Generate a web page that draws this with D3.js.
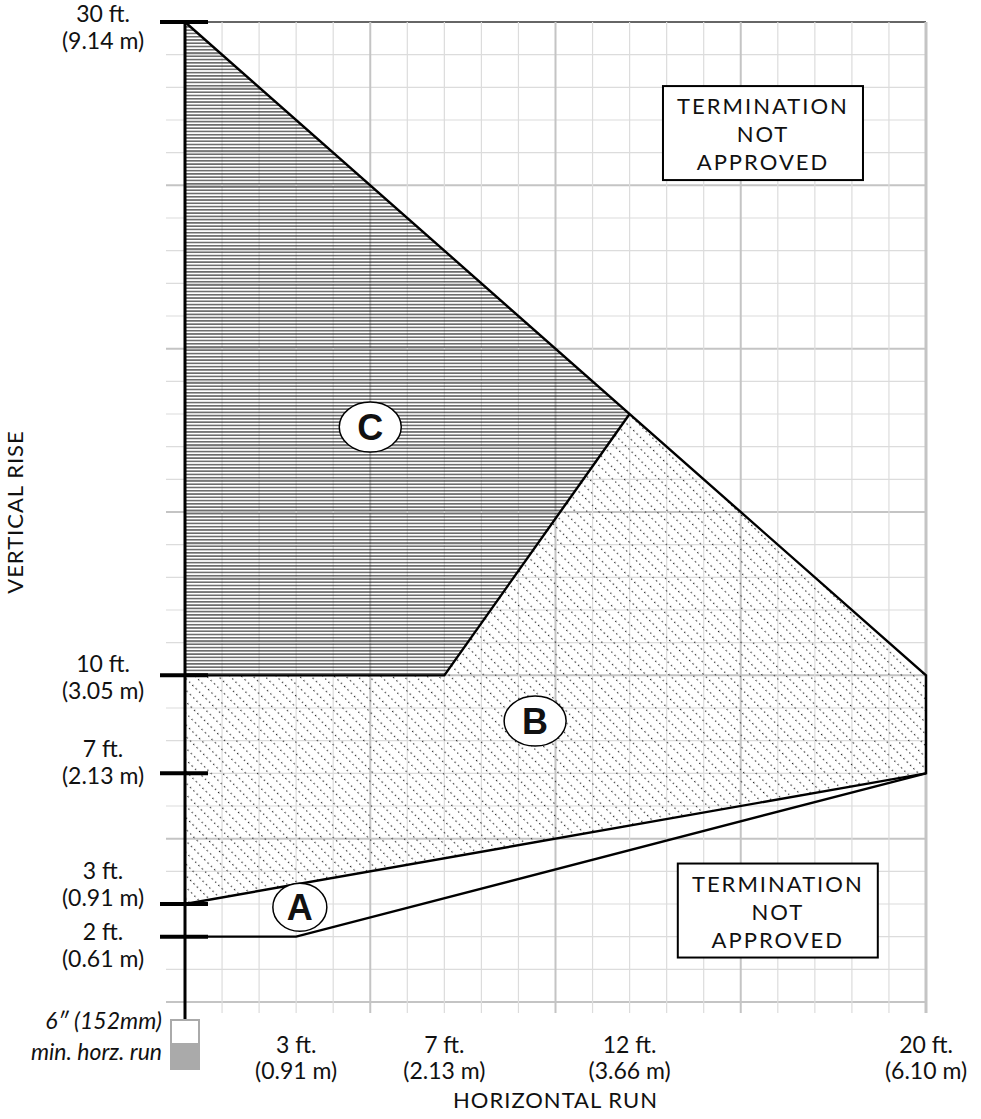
<!DOCTYPE html>
<html lang="en">
<head>
<meta charset="utf-8">
<title>Vent termination chart</title>
<script src="https://d3js.org/d3.v7.min.js"></script>
<style>
  body { margin: 0; background: #fff; }
  text { font-family: Lato, "Open Sans", sans-serif; fill: #111; }
</style>
</head>
<body>
<div id="chart"></div>
<script>

// tick values (ft) and their metric labels
var xTicks = [3, 7, 12, 20];
var xTickMetric = ["(0.91 m)", "(2.13 m)", "(3.66 m)", "(6.10 m)"];
var yTicks = [30, 10, 7, 3, 2];
var yTickMetric = ["(9.14 m)", "(3.05 m)", "(2.13 m)", "(0.91 m)", "(0.61 m)"];

// zone boundaries, [run ft, rise ft]
var zoneC = [[0, 30], [12, 18], [7, 10], [0, 10]];
var zoneB = [[0, 10], [7, 10], [12, 18], [20, 10], [20, 7], [0, 3]];
var outerEdge = [[0, 30], [20, 10], [20, 7], [0, 3]];
var edgeC = [[0, 10], [7, 10], [12, 18]];
var lineA = [[0, 2], [3, 2], [20, 7]];

// zone markers
var zoneNames = ["A", "B", "C"];
var zoneX = [3.1, 9.45, 5.0];
var zoneY = [2.9, 8.6, 17.6];

// "not approved" notes
var noteLines = ["TERMINATION", "NOT", "APPROVED"];
var noteX = [15.6, 16.0];
var noteY = [26.6, 2.8];

var width = 981, height = 1119;

var svg = d3.select("#chart").append("svg")
    .attr("width", width)
    .attr("height", height);

var x = d3.scaleLinear().domain([0, 20]).range([185, 926]);
var y = d3.scaleLinear().domain([0, 30]).range([1002, 22]);

var defs = svg.append("defs");

// C: fine horizontal lines, 10 per foot
var step = (y(0) - y(1)) / 10;
var pc = defs.append("pattern")
    .attr("id", "hatchC")
    .attr("patternUnits", "userSpaceOnUse")
    .attr("x", 0).attr("y", y(30))
    .attr("width", 10).attr("height", step);
pc.append("line")
    .attr("x1", 0).attr("x2", 10)
    .attr("y1", step / 2).attr("y2", step / 2)
    .attr("stroke", "#111").attr("stroke-width", 1);

// B: dotted diagonal lines
var pb = defs.append("pattern")
    .attr("id", "dotsB")
    .attr("patternUnits", "userSpaceOnUse")
    .attr("width", 9.4).attr("height", 8.2)
    .attr("patternTransform", "rotate(45)");
pb.append("line")
    .attr("x1", 0).attr("x2", 9.4)
    .attr("y1", 4).attr("y2", 4)
    .attr("stroke", "#222").attr("stroke-width", 1.1)
    .attr("stroke-dasharray", "1.4 3.3");

// grid
var grid = svg.append("g");
grid.selectAll(".hgrid")
    .data(d3.range(0, 31))
    .enter().append("line")
    .attr("x1", x(0) - 19).attr("x2", x(20))
    .attr("y1", function (d) { return y(d); })
    .attr("y2", function (d) { return y(d); })
    .attr("stroke", function (d) { return d === 30 ? "#666" : (d % 5 === 0 ? "#c4c4c4" : "#dcdcdc"); })
    .attr("stroke-width", function (d) { return d % 5 === 0 ? 2 : 1.2; });

grid.selectAll(".vgrid")
    .data(d3.range(1, 21))
    .enter().append("line")
    .attr("x1", function (d) { return x(d); })
    .attr("x2", function (d) { return x(d); })
    .attr("y1", y(30)).attr("y2", y(0) + 11)
    .attr("stroke", function (d) { return d % 5 === 0 ? "#c4c4c4" : "#dcdcdc"; })
    .attr("stroke-width", function (d) { return d === 20 ? 3 : (d % 5 === 0 ? 2 : 1.2); });

var line = d3.line()
    .x(function (d) { return x(d[0]); })
    .y(function (d) { return y(d[1]); });

// zones
svg.append("path").attr("d", line(zoneB) + "Z")
    .attr("fill", "url(#dotsB)");
svg.append("path").attr("d", line(zoneC) + "Z")
    .attr("fill", "url(#hatchC)");

[outerEdge, edgeC, lineA].forEach(function (pts) {
    svg.append("path").attr("d", line(pts))
        .attr("fill", "none")
        .attr("stroke", "#000")
        .attr("stroke-width", 2.4)
        .attr("stroke-linejoin", "miter");
});

// vertical axis
svg.append("line")
    .attr("x1", x(0)).attr("x2", x(0))
    .attr("y1", y(30)).attr("y2", y(0) + 17)
    .attr("stroke", "#000").attr("stroke-width", 3);

svg.selectAll(".ytick")
    .data(yTicks)
    .enter().append("line")
    .attr("x1", x(0) - 25).attr("x2", x(0) + 23)
    .attr("y1", function (d) { return y(d); })
    .attr("y2", function (d) { return y(d); })
    .attr("stroke", "#000").attr("stroke-width", 4);

// y tick labels, each nudged to sit clear of its neighbours
var yShift = { 30: 0, 10: -3, 7: -16, 3: -25, 2: 3 };
var yl = svg.selectAll(".ylab")
    .data(yTicks)
    .enter().append("text")
    .attr("text-anchor", "middle")
    .style("font-size", "23px");
yl.append("tspan")
    .attr("x", 103)
    .attr("y", function (d) { return y(d) + yShift[d]; })
    .text(function (d) { return d + " ft."; });
yl.append("tspan")
    .attr("x", 103)
    .attr("y", function (d) { return y(d) + yShift[d] + 27; })
    .text(function (d, i) { return yTickMetric[i]; });

// x tick labels
var xl = svg.selectAll(".xlab")
    .data(xTicks)
    .enter().append("text")
    .attr("text-anchor", "middle")
    .style("font-size", "23px");
xl.append("tspan")
    .attr("x", function (d) { return x(d); })
    .attr("y", 1053)
    .text(function (d) { return d + " ft."; });
xl.append("tspan")
    .attr("x", function (d) { return x(d); })
    .attr("y", 1079)
    .text(function (d, i) { return xTickMetric[i]; });

// axis titles
svg.append("text")
    .attr("x", (x(0) + x(20)) / 2).attr("y", 1108)
    .attr("text-anchor", "middle")
    .style("font-size", "22px")
    .style("letter-spacing", "1px")
    .text("HORIZONTAL RUN");

svg.append("text")
    .attr("transform", "translate(23," + (y(0) + y(30)) / 2 + ") rotate(-90)")
    .attr("text-anchor", "middle")
    .style("font-size", "22px")
    .style("letter-spacing", "1px")
    .text("VERTICAL RISE");

// minimum horizontal run marker
svg.append("rect")
    .attr("x", x(0) - 14).attr("y", y(0) + 18)
    .attr("width", 28).attr("height", 24)
    .attr("fill", "#fff").attr("stroke", "#aaa").attr("stroke-width", 2);
svg.append("rect")
    .attr("x", x(0) - 15).attr("y", y(0) + 42)
    .attr("width", 30).attr("height", 26)
    .attr("fill", "#aaa");

svg.append("text")
    .attr("x", 162).attr("y", 1029)
    .attr("text-anchor", "end")
    .style("font-size", "23px").style("font-style", "italic")
    .text("6\u2033 (152mm)");
svg.append("text")
    .attr("x", 162).attr("y", 1060)
    .attr("text-anchor", "end")
    .style("font-size", "23px").style("font-style", "italic")
    .text("min. horz. run");

// zone markers
var zm = svg.selectAll(".zone")
    .data(zoneNames)
    .enter().append("g")
    .attr("transform", function (d, i) { return "translate(" + x(zoneX[i]) + "," + y(zoneY[i]) + ")"; });
zm.append("ellipse")
    .attr("rx", function (d) { return d === "A" ? 27 : 31; })
    .attr("ry", function (d) { return d === "A" ? 24 : 25; })
    .attr("fill", "#fff").attr("stroke", "#000").attr("stroke-width", 1.5);
zm.append("text")
    .attr("text-anchor", "middle")
    .attr("y", 13)
    .style("font-family", "'Liberation Sans', Arial, sans-serif")
    .style("font-weight", "bold")
    .style("font-size", "36px")
    .text(function (d) { return d; });

// notes
var nb = svg.selectAll(".note")
    .data(noteX)
    .enter().append("g")
    .attr("transform", function (d, i) { return "translate(" + x(d) + "," + y(noteY[i]) + ")"; });
nb.append("rect")
    .attr("x", -100).attr("y", -47)
    .attr("width", 200).attr("height", 94)
    .attr("fill", "#fff").attr("stroke", "#000").attr("stroke-width", 2);
nb.selectAll("text")
    .data(noteLines)
    .enter().append("text")
    .attr("text-anchor", "middle")
    .attr("y", function (d, i) { return -19 + i * 28; })
    .style("font-size", "22px")
    .style("letter-spacing", "2px")
    .text(function (d) { return d; });

</script>
</body>
</html>
